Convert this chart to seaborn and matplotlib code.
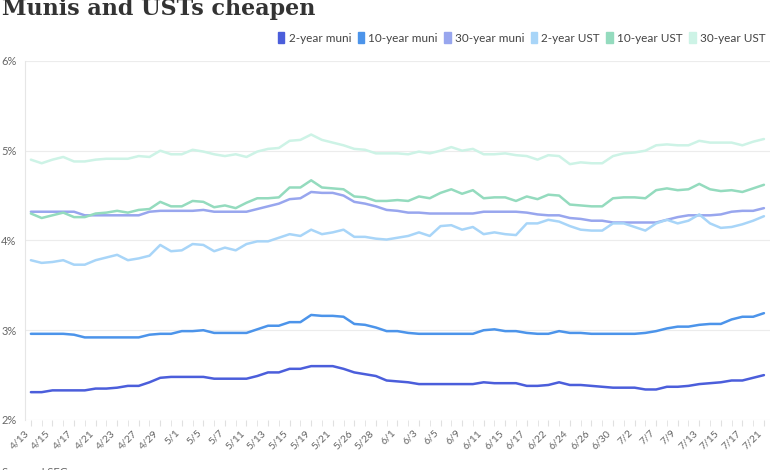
import numpy as np
import pandas as pd
import matplotlib.pyplot as plt
import seaborn as sns
from matplotlib.patches import Patch

# x-axis labels (every other trading day is labelled)
tick_labels = ["4/13", "4/15", "4/17", "4/21", "4/23", "4/27", "4/29", "5/1", "5/5", "5/7",
               "5/11", "5/13", "5/15", "5/19", "5/21", "5/26", "5/28", "6/1", "6/3", "6/5",
               "6/9", "6/11", "6/15", "6/17", "6/22", "6/24", "6/26", "6/30", "7/2", "7/7",
               "7/9", "7/13", "7/15", "7/17", "7/21"]

series_names = ["2-year muni", "10-year muni", "30-year muni", "2-year UST", "10-year UST", "30-year UST"]
series_colors = ["#4b5edb", "#4c94ea", "#98a6ee", "#a8d5f8", "#94dbbe", "#cdf3e6"]

# yields in %
muni_2y = [2.31, 2.31, 2.33, 2.33, 2.33, 2.33, 2.35, 2.35, 2.36, 2.38, 2.38, 2.42, 2.47, 2.48, 2.48,
           2.48, 2.48, 2.46, 2.46, 2.46, 2.46, 2.49, 2.53, 2.53, 2.57, 2.57, 2.60, 2.60, 2.60, 2.57,
           2.53, 2.51, 2.49, 2.44, 2.43, 2.42, 2.40, 2.40, 2.40, 2.40, 2.40, 2.40, 2.42, 2.41, 2.41,
           2.41, 2.38, 2.38, 2.39, 2.42, 2.39, 2.39, 2.38, 2.37, 2.36, 2.36, 2.36, 2.34, 2.34, 2.37,
           2.37, 2.38, 2.40, 2.41, 2.42, 2.44, 2.44, 2.47, 2.50]
muni_10y = [2.96, 2.96, 2.96, 2.96, 2.95, 2.92, 2.92, 2.92, 2.92, 2.92, 2.92, 2.95, 2.96, 2.96, 2.99,
            2.99, 3.00, 2.97, 2.97, 2.97, 2.97, 3.01, 3.05, 3.05, 3.09, 3.09, 3.17, 3.16, 3.16, 3.15,
            3.07, 3.06, 3.03, 2.99, 2.99, 2.97, 2.96, 2.96, 2.96, 2.96, 2.96, 2.96, 3.00, 3.01, 2.99,
            2.99, 2.97, 2.96, 2.96, 2.99, 2.97, 2.97, 2.96, 2.96, 2.96, 2.96, 2.96, 2.97, 2.99, 3.02,
            3.04, 3.04, 3.06, 3.07, 3.07, 3.12, 3.15, 3.15, 3.19]
muni_30y = [4.32, 4.32, 4.32, 4.32, 4.32, 4.28, 4.28, 4.28, 4.28, 4.28, 4.28, 4.32, 4.33, 4.33, 4.33,
            4.33, 4.34, 4.32, 4.32, 4.32, 4.32, 4.35, 4.38, 4.41, 4.46, 4.47, 4.54, 4.53, 4.53, 4.50,
            4.43, 4.41, 4.38, 4.34, 4.33, 4.31, 4.31, 4.30, 4.30, 4.30, 4.30, 4.30, 4.32, 4.32, 4.32,
            4.32, 4.31, 4.29, 4.28, 4.28, 4.25, 4.24, 4.22, 4.22, 4.20, 4.20, 4.20, 4.20, 4.20, 4.23,
            4.26, 4.28, 4.28, 4.28, 4.29, 4.32, 4.33, 4.33, 4.36]
ust_2y = [3.78, 3.75, 3.76, 3.78, 3.73, 3.73, 3.78, 3.81, 3.84, 3.78, 3.80, 3.83, 3.95, 3.88, 3.89,
          3.96, 3.95, 3.88, 3.92, 3.89, 3.96, 3.99, 3.99, 4.03, 4.07, 4.05, 4.12, 4.07, 4.09, 4.12,
          4.04, 4.04, 4.02, 4.01, 4.03, 4.05, 4.09, 4.05, 4.16, 4.17, 4.12, 4.15, 4.07, 4.09, 4.07,
          4.06, 4.19, 4.19, 4.23, 4.21, 4.16, 4.12, 4.11, 4.11, 4.19, 4.19, 4.15, 4.11, 4.19, 4.23,
          4.19, 4.22, 4.29, 4.19, 4.14, 4.15, 4.18, 4.22, 4.27]
ust_10y = [4.30, 4.25, 4.28, 4.31, 4.26, 4.26, 4.30, 4.31, 4.33, 4.31, 4.34, 4.35, 4.43, 4.38, 4.38,
           4.44, 4.43, 4.37, 4.39, 4.36, 4.42, 4.47, 4.47, 4.48, 4.59, 4.59, 4.67, 4.59, 4.58, 4.57,
           4.49, 4.48, 4.44, 4.44, 4.45, 4.44, 4.49, 4.47, 4.53, 4.57, 4.52, 4.56, 4.47, 4.48, 4.48,
           4.44, 4.49, 4.46, 4.51, 4.50, 4.40, 4.39, 4.38, 4.38, 4.47, 4.48, 4.48, 4.47, 4.56, 4.58,
           4.56, 4.57, 4.63, 4.57, 4.55, 4.56, 4.54, 4.58, 4.62]
ust_30y = [4.90, 4.86, 4.90, 4.93, 4.88, 4.88, 4.90, 4.91, 4.91, 4.91, 4.94, 4.93, 5.00, 4.96, 4.96,
           5.01, 4.99, 4.96, 4.94, 4.96, 4.93, 4.99, 5.02, 5.03, 5.11, 5.12, 5.18, 5.12, 5.09, 5.06,
           5.02, 5.01, 4.97, 4.97, 4.97, 4.96, 4.99, 4.97, 5.00, 5.04, 5.00, 5.02, 4.96, 4.96, 4.97,
           4.95, 4.94, 4.90, 4.95, 4.94, 4.85, 4.87, 4.86, 4.86, 4.94, 4.97, 4.98, 5.00, 5.06, 5.07,
           5.06, 5.06, 5.11, 5.09, 5.09, 5.09, 5.06, 5.10, 5.13]

all_series = [muni_2y, muni_10y, muni_30y, ust_2y, ust_10y, ust_30y]

# long table for seaborn
rows = []
for name, vals in zip(series_names, all_series):
    for i, v in enumerate(vals):
        rows.append({"idx": i, "rate": v, "series": name})
df = pd.DataFrame(rows)
n = len(muni_2y)

sns.set_style("white")
plt.rcParams['font.family'] = ['Lato', 'DejaVu Sans']

fig = plt.figure(figsize=(7.8, 4.7), dpi=100)
ax = fig.add_axes([0.032, 0.1064, 0.955, 0.764])

sns.lineplot(data=df, x="idx", y="rate", hue="series", hue_order=series_names,
             palette=dict(zip(series_names, series_colors)), linewidth=1.8,
             legend=False, ax=ax)

ax.set_xlim(-0.55, n - 1 + 0.55)
ax.set_ylim(2, 6)
ax.set_yticks([2, 3, 4, 5, 6])
ax.set_yticklabels(["2%", "3%", "4%", "5%", "6%"])
ax.set_xticks(range(0, n, 2))
ax.set_xticklabels(tick_labels, rotation=45, ha="right")
ax.set_xticks(range(n), minor=True)
ax.set_xlabel("")
ax.set_ylabel("")

ax.grid(axis="y", color="#ececec", linewidth=0.8)
ax.set_axisbelow(True)
for s in ["top", "right", "bottom"]:
    ax.spines[s].set_visible(False)
ax.spines["left"].set_color("#e6e6e6")
ax.tick_params(axis="y", length=0, pad=6, labelsize=8, labelcolor="#666666")
ax.tick_params(axis="x", which="both", length=4, color="#e0e0e0", pad=2,
               labelsize=7.5, labelcolor="#666666", bottom=True)

# legend
handles = [Patch(facecolor=c, edgecolor=c) for c in series_colors]
fig.legend(handles, series_names, loc="center right", bbox_to_anchor=(0.995, 0.919),
           ncol=6, frameon=False, fontsize=8.5, handlelength=0.55, handleheight=1.0,
           handletextpad=0.35, columnspacing=0.55, labelcolor="#444444")

fig.text(0.003, 1 - 15 / 470, "Munis and USTs cheapen", va="baseline", ha="left",
         fontsize=16, fontweight="bold", family="DejaVu Serif", color="#333333")
fig.text(0.003, 0.006, "Source: LSEG", va="top", ha="left", fontsize=8, color="#666666")

fig.savefig("out.png", dpi=100)
